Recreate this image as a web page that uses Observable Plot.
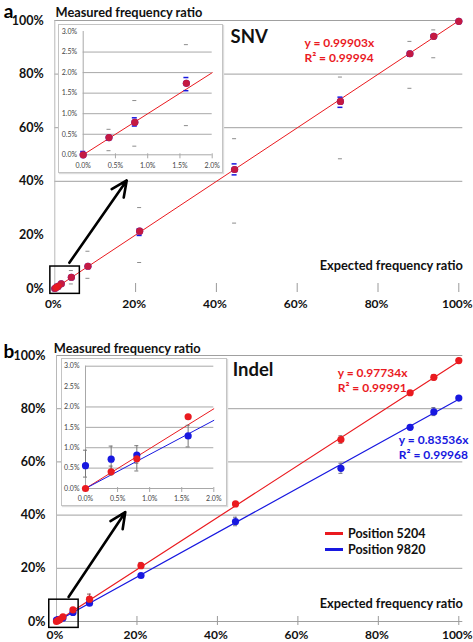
<!DOCTYPE html>
<html><head><meta charset="utf-8">
<script src="https://cdn.jsdelivr.net/npm/d3@7"></script>
<script src="https://cdn.jsdelivr.net/npm/@observablehq/plot@0.6"></script>
<style>
body{margin:0;background:#fff;}
#wrap{position:relative;width:473px;height:642px;overflow:hidden;font-family:Lato,"Open Sans",sans-serif;}
#wrap svg{position:absolute;}
.legend{position:absolute;left:325px;top:525px;font:bold 12.5px Lato,sans-serif;color:#111;}
.legend div{display:flex;align-items:center;height:16px;}
.legend span.sw{display:inline-block;width:18px;height:3px;margin-right:5px;}
</style></head>
<body><div id="wrap"></div>
<script>
// ---------- data ----------
const expected = [0, 0.4, 0.8, 1.6, 4.1, 8.2, 21, 44.5, 70.7, 87.9, 93.8, 100];
// SNV panel
const snvMeasured = [0, 0.42, 0.79, 1.74, 4.2, 8.3, 21.4, 44.4, 69.8, 87.6, 94.1, 99.7];
const snvBlueLo  = [null, 0.36, 0.70, 1.56, 3.9, 8.0, 19.8, 42.4, 67.6, 86.7, 93.5, null];
const snvBlueHi  = [0.08, 0.46, 0.90, 1.88, 4.5, 8.6, 22.3, 46.5, 71.4, 88.4, 94.6, null];
const snvGrayLo  = [null, 0.10, 0.21, 0.71, 1.7, 3.8, 9.7, 24.4, 48.4, 74.7, 86.1, null];
const snvGrayHi  = [null, 0.62, 1.32, 2.68, 6.7, 13.9, 30.2, 55.9, 78.9, 92.2, 96.5, null];
const snvSlope = 0.99903, snvR2 = 0.99994;
// Indel panel
const pos5204   = [0, 0.41, 0.73, 1.76, 4.4, 8.4, 21.0, 44.2, 68.4, 86.0, 91.8, 98.1];
const pos5204Lo = [null, 0.33, 0.62, 1.72, 4.1, 6.8, 20.2, 43.6, 67.0, 85.4, 90.8, 97.6];
const pos5204Hi = [null, 0.55, 0.84, 1.80, 4.7, 10.3, 22.2, 44.8, 69.8, 86.6, 92.8, 98.6];
const pos9820   = [0.56, 0.72, 0.82, 1.29, 3.4, 6.9, 17.3, 37.6, 57.6, 73.0, 78.8, 84.0];
const pos9820Lo = [0.28, 0.35, 0.43, 1.02, 3.0, 6.5, 16.8, 36.0, 55.7, 72.3, 77.4, 83.3];
const pos9820Hi = [0.94, 1.04, 1.05, 1.55, 3.8, 7.3, 17.8, 39.2, 59.5, 73.7, 80.4, 84.8];
const slope5204 = 0.97734, r2_5204 = 0.99991;
const slope9820 = 0.83536, r2_9820 = 0.99968;
// ticks & grids
const mainTicks = [0, 20, 40, 60, 80, 100];
const gridA = [40, 60, 80, 100];
const gridB = [0, 20, 40, 60, 80, 100];
const insetXTicks = [0, 0.5, 1, 1.5, 2];
const insetYTicks = [0, 0.5, 1, 1.5, 2, 2.5, 3];
const insetGridA = [0.5, 1, 1.5, 2, 2.5];
const insetGridB = [0.5, 1, 1.5, 2, 3];
// annotations (data units)
const zoomBoxA = [{x1: -1.1, x2: 6.2, y1: -2, y2: 8.2}];
const arrowA = [{x1: 3.6, y1: 9.6, x2: 17.8, y2: 40.3}];
const zoomBoxB = [{x1: -1.8, x2: 5.5, y1: -2.4, y2: 8.2}];
const arrowB = [{x1: 3.0, y1: 9.2, x2: 17.1, y2: 41.1}];

const RED = "#ea1a1f", BLUE = "#1818e0", GRAY = "#8c8c8c";
const FONT = "Lato, 'Open Sans', sans-serif";
const pct = d => d + "%";
const pct1 = d => d.toFixed(1) + "%";

const snvRows = expected.map((x, i) => ({x, y: snvMeasured[i], blo: snvBlueLo[i], bhi: snvBlueHi[i], glo: snvGrayLo[i], ghi: snvGrayHi[i]}));
const indelRows = expected.map((x, i) => ({x, r: pos5204[i], rlo: pos5204Lo[i], rhi: pos5204Hi[i], b: pos9820[i], blo: pos9820Lo[i], bhi: pos9820Hi[i]}));
const small = rows => rows.filter(d => d.x <= 2);

const wrap = document.getElementById("wrap");
function place(svg, left, top, extra) {
  svg.style.left = left + "px"; svg.style.top = top + "px";
  if (extra) Object.assign(svg.style, extra);
  wrap.appendChild(svg);
}
function caps(data, key, color, half, sw) {
  return Plot.ruleY(data, {y: key, x1: "x", x2: "x", insetLeft: -half, insetRight: -half, stroke: color, strokeWidth: sw});
}
function mainAxes(grid, pad) {
  return [
    Plot.ruleY(grid, {stroke: "#a0a0a0", insetRight: -4}),
    Plot.ruleX([0], {y1: 0, y2: 100, stroke: "#b8b8b8"}),
    Plot.ruleX(mainTicks, {y1: 0, y2: 0, insetTop: -5, insetBottom: -4, stroke: "#9a9a9a"}),
    Plot.axisX(mainTicks, {tickSize: 0, tickPadding: pad, tickFormat: pct, fontSize: 12, dx: -1.5, fontWeight: "bold", fill: "#111", label: null}),
    Plot.axisY(mainTicks, {tickSize: 0, tickPadding: 11, tickFormat: pct, fontSize: 12.5, fontWeight: "bold", fill: "#111", label: null})
  ];
}
function insetAxes(grid) {
  return [
    Plot.ruleY(grid, {stroke: "#a8a8a8"}),
    Plot.ruleX([0], {y1: 0, y2: 3, stroke: "#a8a8a8"}),
    Plot.ruleY([0], {stroke: "#a8a8a8"}),
    Plot.ruleX(insetXTicks, {y1: 0, y2: 0, insetTop: -1, insetBottom: -4, stroke: "#a8a8a8"}),
    Plot.axisX(insetXTicks, {tickSize: 0, tickPadding: 8, tickFormat: pct1, fontSize: 7, fill: "#444", label: null}),
    Plot.axisY(insetYTicks, {tickSize: 0, tickPadding: 6, tickFormat: pct1, fontSize: 7, fill: "#444", label: null})
  ];
}

// ---------- Panel a (SNV) ----------
const A = Plot.plot({
  width: 473, height: 320, marginLeft: 54.3, marginRight: 14.7, marginTop: 20, marginBottom: 32,
  x: {domain: [0, 100], label: null}, y: {domain: [0, 100], label: null},
  style: {fontFamily: FONT, background: "transparent", overflow: "visible"},
  marks: [
    ...mainAxes(gridA, 11),
    Plot.line([0, 100], {x: d => d, y: d => d * snvSlope, stroke: RED, strokeWidth: 1}),
    caps(snvRows, "glo", GRAY, 2, 1), caps(snvRows, "ghi", GRAY, 2, 1),
    caps(snvRows, "blo", BLUE, 2.5, 1.5), caps(snvRows, "bhi", BLUE, 2.5, 1.5),
    Plot.dot(snvRows, {x: "x", y: "y", r: 3.6, fill: BLUE}),
    Plot.dot(snvRows, {x: "x", y: "y", r: 3.6, fill: RED, fillOpacity: 0.82}),
    Plot.rect(zoomBoxA, {x1: "x1", x2: "x2", y1: "y1", y2: "y2", fill: "none", stroke: "#000", strokeWidth: 1.5}),
    Plot.arrow(arrowA, {x1: "x1", y1: "y1", x2: "x2", y2: "y2", stroke: "#000", strokeWidth: 2.6, headLength: 10, headAngle: 50}),
    Plot.text(["a"], {frameAnchor: "top-left", dx: -51, dy: -16, fontSize: 19, fontWeight: "bold", textAnchor: "start", fill: "#000"}),
    Plot.text(["Measured frequency ratio"], {frameAnchor: "top-left", dx: 0.7, dy: -13, fontSize: 12.8, fontWeight: "bold", textAnchor: "start", fill: "#111"}),
    Plot.text(["SNV"], {x: 43.5, y: 93.7, fontSize: 18.5, fontWeight: "bold", textAnchor: "start", fill: "#111"}),
    Plot.text([`y = ${snvSlope}x\nR² = ${snvR2}`], {x: 61.8, y: 89, fontSize: 12, lineHeight: 1.25, fontWeight: "bold", textAnchor: "start", fill: RED}),
    Plot.text(["Expected frequency ratio"], {frameAnchor: "bottom-right", dx: 4, dy: -19, fontSize: 12.8, fontWeight: "bold", textAnchor: "end", fill: "#111"})
  ]
});
place(A, 0, 0);

const AI = Plot.plot({
  width: 165, height: 149, marginLeft: 24.7, marginRight: 11.3, marginTop: 7, marginBottom: 18.7,
  x: {domain: [0, 2], label: null}, y: {domain: [0, 3], label: null},
  style: {fontFamily: FONT, background: "#fff", overflow: "visible"},
  marks: [
    ...insetAxes(insetGridA),
    Plot.line([0, 2], {x: d => d, y: d => d * snvSlope, stroke: RED, strokeWidth: 1}),
    caps(small(snvRows), "glo", GRAY, 2, 1), caps(small(snvRows), "ghi", GRAY, 2, 1),
    caps(small(snvRows), "blo", BLUE, 2.5, 1.5), caps(small(snvRows), "bhi", BLUE, 2.5, 1.5),
    Plot.dot(small(snvRows), {x: "x", y: "y", r: 3.6, fill: BLUE}),
    Plot.dot(small(snvRows), {x: "x", y: "y", r: 3.6, fill: RED, fillOpacity: 0.82})
  ]
});
place(AI, 58, 24, {outline: "1px solid #c4c4c4", outlineOffset: "-1px", boxShadow: "1px 1px 1px #ddd"});

// ---------- Panel b (Indel) ----------
function errBars(rows, lo, hi, color) {
  return [
    Plot.ruleX(rows, {x: "x", y1: lo, y2: hi, stroke: color, strokeWidth: 1}),
    caps(rows, lo, color, 2, 1), caps(rows, hi, color, 2, 1)
  ];
}
const B = Plot.plot({
  width: 473, height: 322, marginLeft: 56, marginRight: 14.7, marginTop: 35, marginBottom: 21,
  x: {domain: [0, 100], label: null}, y: {domain: [0, 100], label: null},
  style: {fontFamily: FONT, background: "transparent", overflow: "visible"},
  marks: [
    ...mainAxes(gridB, 8.5),
    Plot.line([0, 100], {x: d => d, y: d => d * slope5204, stroke: RED, strokeWidth: 1.2}),
    Plot.line([0, 100], {x: d => d, y: d => d * slope9820, stroke: BLUE, strokeWidth: 1.2}),
    ...errBars(indelRows, "blo", "bhi", "#6a6a8a"),
    ...errBars(indelRows, "rlo", "rhi", "#8a5a5a"),
    Plot.dot(indelRows, {x: "x", y: "b", r: 3.6, fill: BLUE}),
    Plot.dot(indelRows, {x: "x", y: "r", r: 3.6, fill: RED}),
    Plot.rect(zoomBoxB, {x1: "x1", x2: "x2", y1: "y1", y2: "y2", fill: "none", stroke: "#000", strokeWidth: 1.5}),
    Plot.arrow(arrowB, {x1: "x1", y1: "y1", x2: "x2", y2: "y2", stroke: "#000", strokeWidth: 2.6, headLength: 10, headAngle: 50}),
    Plot.text(["b"], {frameAnchor: "top-left", dx: -53, dy: -11, fontSize: 19, fontWeight: "bold", textAnchor: "start", fill: "#000"}),
    Plot.text(["Measured frequency ratio"], {frameAnchor: "top-left", dx: -2.7, dy: -12, fontSize: 12.8, fontWeight: "bold", textAnchor: "start", fill: "#111"}),
    Plot.text(["Indel"], {x: 43.8, y: 94.4, fontSize: 18.5, fontWeight: "bold", textAnchor: "start", fill: "#111"}),
    Plot.text([`y = ${slope5204}x\nR² = ${r2_5204}`], {x: 69.9, y: 90.8, fontSize: 12, lineHeight: 1.25, fontWeight: "bold", textAnchor: "start", fill: RED}),
    Plot.text([`y = ${slope9820}x\nR² = ${r2_9820}`], {x: 85.1, y: 65.8, fontSize: 12, lineHeight: 1.25, fontWeight: "bold", textAnchor: "start", fill: BLUE}),
    Plot.text(["Expected frequency ratio"], {frameAnchor: "bottom-right", dx: 4, dy: -14, fontSize: 12.8, fontWeight: "bold", textAnchor: "end", fill: "#111"})
  ]
});
place(B, 0, 320);

const BI = Plot.plot({
  width: 166, height: 148, marginLeft: 24, marginRight: 13.7, marginTop: 7.7, marginBottom: 18,
  x: {domain: [0, 2], label: null}, y: {domain: [0, 3], label: null},
  style: {fontFamily: FONT, background: "#fff", overflow: "visible"},
  marks: [
    ...insetAxes(insetGridB),
    Plot.line([0, 2], {x: d => d, y: d => d * slope5204, stroke: RED, strokeWidth: 1}),
    Plot.line([0, 2], {x: d => d, y: d => d * slope9820, stroke: BLUE, strokeWidth: 1}),
    ...errBars(small(indelRows), "blo", "bhi", "#777"),
    ...errBars(small(indelRows), "rlo", "rhi", "#777"),
    Plot.dot(small(indelRows), {x: "x", y: "b", r: 3.6, fill: BLUE}),
    Plot.dot(small(indelRows), {x: "x", y: "r", r: 3.6, fill: RED})
  ]
});
place(BI, 61, 358, {outline: "1px solid #c4c4c4", outlineOffset: "-1px", boxShadow: "1px 1px 1px #ddd"});

// legend
const legendItems = [{label: "Position 5204", color: RED}, {label: "Position 9820", color: BLUE}];
const lg = document.createElement("div");
lg.className = "legend";
legendItems.forEach(it => {
  const row = document.createElement("div");
  const sw = document.createElement("span"); sw.className = "sw"; sw.style.background = it.color;
  const tx = document.createElement("span"); tx.textContent = it.label;
  row.appendChild(sw); row.appendChild(tx); lg.appendChild(row);
});
wrap.appendChild(lg);
</script>
</body></html>
